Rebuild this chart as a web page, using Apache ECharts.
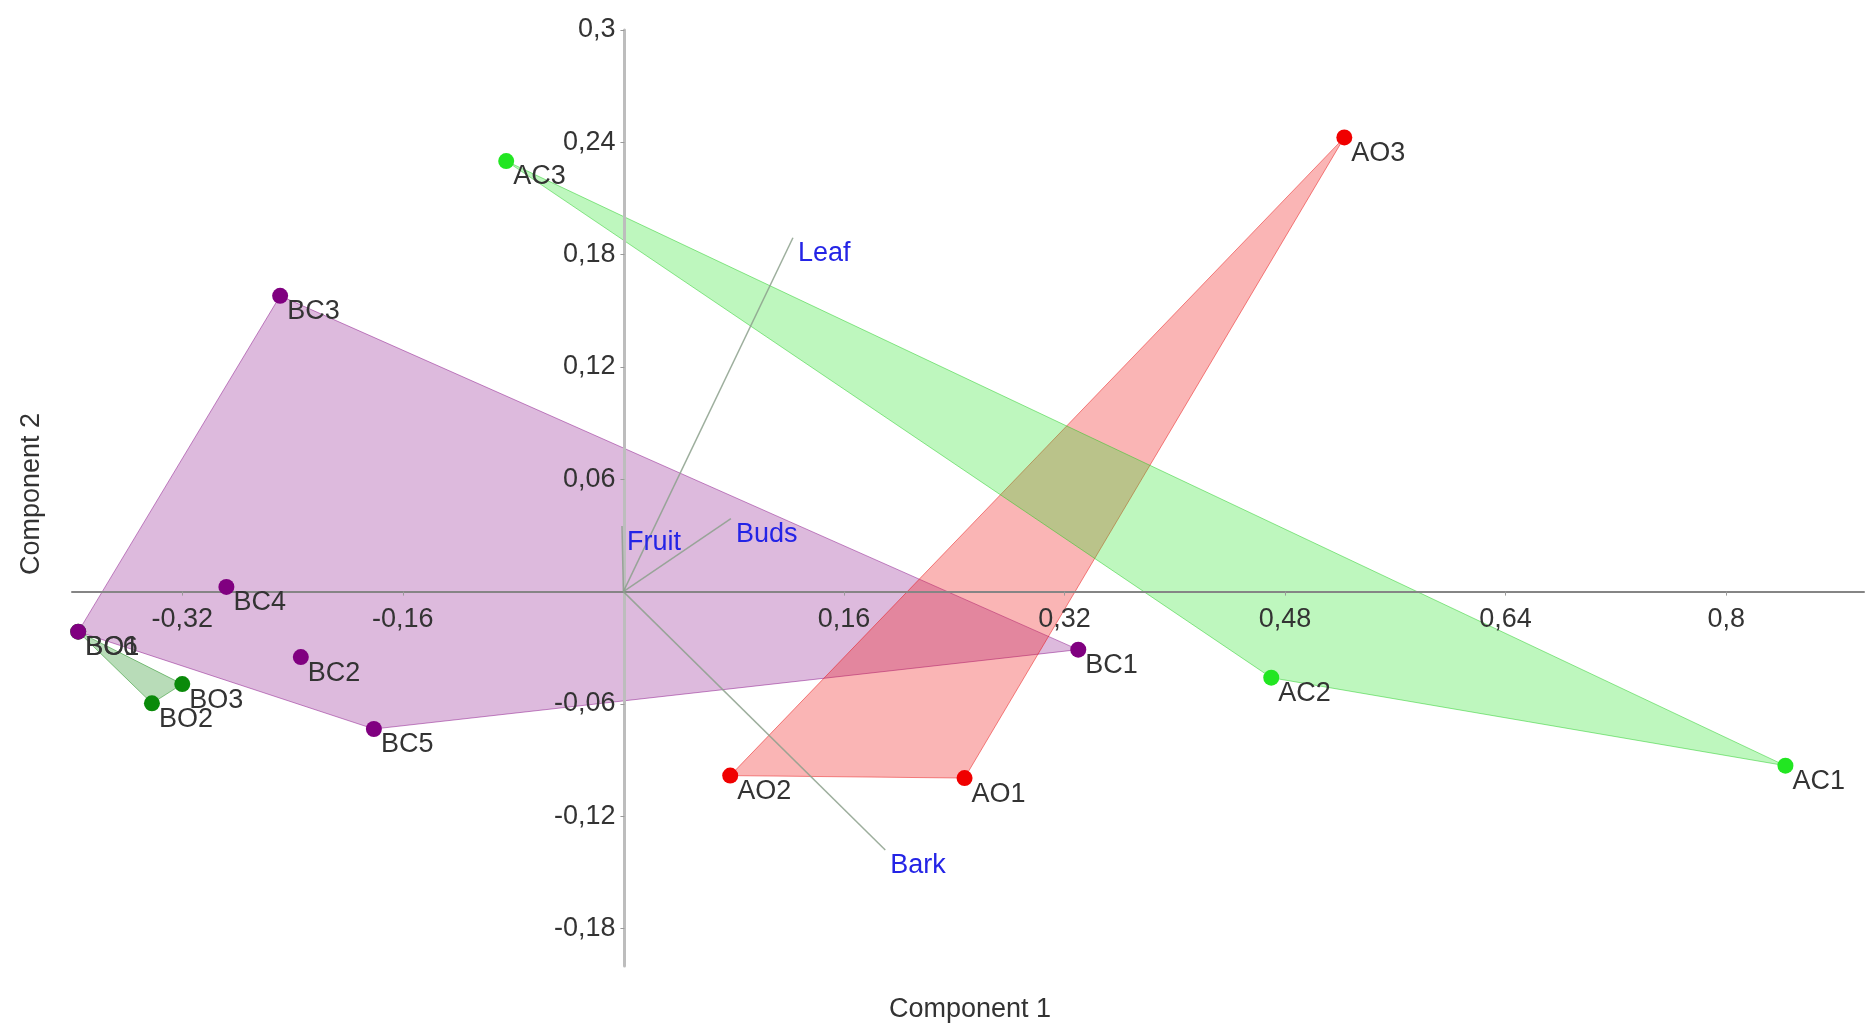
<!DOCTYPE html>
<html>
<head>
<meta charset="utf-8">
<script src="https://cdn.jsdelivr.net/npm/echarts@6/dist/echarts.min.js"></script>
<style>
  html, body { margin: 0; padding: 0; background: #ffffff; }
  #chart { width: 1874px; height: 1029px; }
</style>
</head>
<body>
<div id="chart"></div>
<script>
// PCA scores, group AC
const acNames = ['AC1', 'AC2', 'AC3'];
const acX = [0.843, 0.470, -0.085];
const acY = [-0.093, -0.046, 0.230];
// group AO
const aoNames = ['AO1', 'AO2', 'AO3'];
const aoX = [0.2475, 0.0775, 0.523];
const aoY = [-0.0996, -0.0983, 0.2426];
// group BC
const bcNames = ['BC1', 'BC2', 'BC3', 'BC4', 'BC5', 'BC6'];
const bcX = [0.330, -0.234, -0.249, -0.288, -0.181, -0.3955];
const bcY = [-0.031, -0.035, 0.158, 0.0025, -0.0734, -0.0214];
// group BO
const boNames = ['BO1', 'BO2', 'BO3'];
const boX = [-0.3955, -0.342, -0.320];
const boY = [-0.0214, -0.0597, -0.0494];
// loadings (biplot vectors)
const varNames = ['Leaf', 'Fruit', 'Buds', 'Bark'];
const varX = [0.123, -0.001, 0.078, 0.190];
const varY = [0.189, 0.035, 0.039, -0.138];
// tick labels
const xTicks = [-0.32, -0.16, 0.16, 0.32, 0.48, 0.64, 0.8];
const yTicks = [-0.18, -0.12, -0.06, 0.06, 0.12, 0.18, 0.24, 0.3];

const FONT = '"Liberation Sans", Arial, sans-serif';
const FS = 27;

const GRID = { left: 72, right: 10, top: 30, bottom: 63 };
const W = 1874, H = 1029;

function zipPoints(xs, ys, names) {
  return xs.map((x, i) => [x, ys[i], names[i]]);
}

// convex hull (monotone chain)
function hull(pts) {
  const p = pts.map(d => [d[0], d[1]]).sort((a, b) => a[0] - b[0] || a[1] - b[1]);
  const cross = (o, a, b) => (a[0] - o[0]) * (b[1] - o[1]) - (a[1] - o[1]) * (b[0] - o[0]);
  const lower = [], upper = [];
  for (const q of p) {
    while (lower.length >= 2 && cross(lower[lower.length - 2], lower[lower.length - 1], q) <= 0) lower.pop();
    lower.push(q);
  }
  for (let i = p.length - 1; i >= 0; i--) {
    const q = p[i];
    while (upper.length >= 2 && cross(upper[upper.length - 2], upper[upper.length - 1], q) <= 0) upper.pop();
    upper.push(q);
  }
  upper.pop(); lower.pop();
  return lower.concat(upper);
}

function hullSeries(pts, fill, stroke) {
  const h = hull(pts);
  return {
    type: 'custom',
    coordinateSystem: 'cartesian2d',
    z: 1,
    silent: true,
    data: h,
    renderItem: function (params, api) {
      if (params.dataIndex !== 0) return null;
      return {
        type: 'polygon',
        shape: { points: h.map(q => api.coord(q)) },
        style: { fill: fill, stroke: stroke, lineWidth: 1 }
      };
    }
  };
}

function pointSeries(pts, color) {
  return {
    type: 'scatter',
    z: 6,
    data: pts,
    symbol: 'circle',
    symbolSize: 16,
    itemStyle: { color: color, opacity: 1 },
    label: {
      show: true,
      position: 'right',
      distance: 0,
      offset: [-1, 16],
      formatter: p => p.data[2],
      color: '#333333',
      fontSize: FS,
      fontFamily: FONT
    }
  };
}

const ac = zipPoints(acX, acY, acNames);
const ao = zipPoints(aoX, aoY, aoNames);
const bc = zipPoints(bcX, bcY, bcNames);
const bo = zipPoints(boX, boY, boNames);
const vars = zipPoints(varX, varY, varNames);

const fmt = v => String(v).replace('.', ',');

const chart = echarts.init(document.getElementById('chart'), null, { renderer: 'canvas' });

chart.setOption({
  backgroundColor: '#ffffff',
  animation: false,
  grid: { left: GRID.left, right: GRID.right, top: GRID.top, bottom: GRID.bottom, containLabel: false },
  xAxis: {
    type: 'value',
    z: 4,
    min: -0.4,
    max: 0.9,
    axisLine: { show: true, onZero: false, lineStyle: { color: '#858585', width: 2 } },
    axisTick: { show: true, customValues: xTicks, length: 4, lineStyle: { color: '#9a9a9a' } },
    axisLabel: { customValues: xTicks, formatter: fmt, fontSize: FS, color: '#333333', fontFamily: FONT, margin: 14 },
    splitLine: { show: false }
  },
  yAxis: {
    type: 'value',
    z: 4,
    min: -0.2,
    max: 0.3,
    axisLine: { show: true, onZero: false, lineStyle: { color: '#bdbdbd', width: 3 } },
    axisTick: { show: true, customValues: yTicks, length: 4, lineStyle: { color: '#9a9a9a' } },
    axisLabel: { customValues: yTicks, formatter: fmt, fontSize: FS, color: '#333333', fontFamily: FONT, margin: 9 },
    splitLine: { show: false }
  },
  graphic: [
    {
      type: 'text', x: 970, y: 1010, silent: true,
      style: { text: 'Component 1', fill: '#333333', font: FS + 'px ' + FONT,
               align: 'center', verticalAlign: 'middle', textAlign: 'center', textVerticalAlign: 'middle' }
    },
    {
      type: 'text', x: 32, y: 494, rotation: Math.PI / 2, silent: true,
      style: { text: 'Component 2', fill: '#333333', font: FS + 'px ' + FONT,
               align: 'center', verticalAlign: 'middle', textAlign: 'center', textVerticalAlign: 'middle' }
    }
  ],
  series: [
    hullSeries(bc, 'rgba(128,0,128,0.27)', 'rgba(128,0,128,0.45)'),
    hullSeries(ao, 'rgba(240,30,30,0.33)', 'rgba(230,0,0,0.45)'),
    hullSeries(ac, 'rgba(40,230,40,0.30)', 'rgba(20,200,20,0.45)'),
    hullSeries(bo, 'rgba(0,128,0,0.28)', 'rgba(0,128,0,0.45)'),
    {
      type: 'custom',
      coordinateSystem: 'cartesian2d',
      z: 5,
      silent: true,
      data: vars,
      renderItem: function (params, api) {
        const o = api.coord([0, 0]);
        const e = api.coord([api.value(0), api.value(1)]);
        const name = vars[params.dataIndex][2];
        return {
          type: 'group',
          children: [
            { type: 'line', shape: { x1: o[0], y1: o[1], x2: e[0], y2: e[1] },
              style: { stroke: 'rgba(140,160,140,0.85)', lineWidth: 1.5 } },
            { type: 'text', x: e[0] + 5, y: e[1] + 16,
              style: { text: name, fill: '#2424e6', font: FS + 'px ' + FONT,
                       align: 'left', verticalAlign: 'middle', textAlign: 'left', textVerticalAlign: 'middle' } }
          ]
        };
      }
    },
    pointSeries(bo, '#0a8a0a'),
    pointSeries(bc, '#800080'),
    pointSeries(ao, '#f00000'),
    pointSeries(ac, '#22e622')
  ]
});

// Move both axes (line, ticks and labels) so they cross at the data origin.
const origin = chart.convertToPixel({ gridIndex: 0 }, [0, 0]);
const gridBottomY = H - GRID.bottom;
chart.setOption({
  xAxis: { offset: -(gridBottomY - origin[1]) },
  yAxis: { offset: -(origin[0] - GRID.left) }
});
</script>
</body>
</html>
